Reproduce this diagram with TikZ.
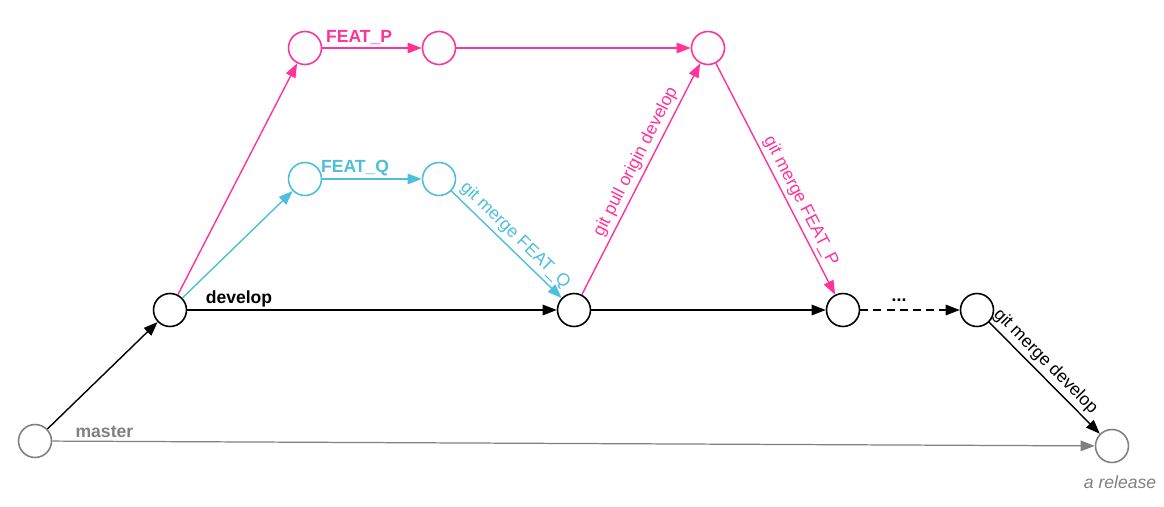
\documentclass[tikz,border=0pt]{standalone}
\usepackage{fontspec}
\setmainfont{Liberation Sans}
\usetikzlibrary{arrows.meta}
\definecolor{featp}{RGB}{255,51,153}
\definecolor{featq}{RGB}{77,190,220}
\definecolor{mastergray}{RGB}{128,128,128}

\begin{document}
\begin{tikzpicture} [x=0.02cm, y=-0.02cm,
				>={Triangle[length=8pt,width=6pt]},
				commit/.style={
				% The shape:
				circle,
				% The size:
      				minimum size=0.66cm, inner sep=0pt,
				% The border:
     				 draw=black, line width=0.9pt,
      				% The filling:
				fill=white
    				},
				pcommit/.style={commit, draw=featp},
				qcommit/.style={commit, draw=featq},
				mcommit/.style={commit, draw=mastergray},
				branch/.style={
				% Font
				font=\bfseries, inner sep=1.5pt
    				},
				cmd/.style={
				sloped, above, inner sep=2pt
    				},
				]
    \tikzstyle{every path} = [line width=0.8pt]
    \useasboundingbox (0,0) rectangle (1164,507);
    % commits
    \node [mcommit] (m0) at (35,441) {};
    \node [mcommit] (m1) at (1112,446) {};
    \node [commit] (d0) at (170,310) {};
    \node [commit] (d1) at (574,310) {};
    \node [commit] (d2) at (843,310) {};
    \node [commit] (d3) at (977,310) {};
    \node [pcommit] (p0) at (305,48) {};
    \node [pcommit] (p1) at (439,48) {};
    \node [pcommit] (p2) at (708,48) {};
    \node [qcommit] (q0) at (305,179) {};
    \node [qcommit] (q1) at (439,179) {};
    \node [mastergray, font=\itshape, anchor=north] (rel) at (1120,469) {a release};
    % master
    \draw [->, mastergray, line width=0.7pt] (m0) -- node [branch, above, pos=0.05] {master} (m1);
    \draw [->] (m0) -- (d0);
    % develop
    \draw [->] (d0) -- node [branch, above, pos=0.14] {develop} (d1);
    \draw [->] (d1) -- (d2);
    \draw [->, dash pattern=on 4.5pt off 3pt] (d2) -- node [branch, above=3pt, pos=0.39] {...} (d3);
    \draw [->] (d3) -- node [cmd, pos=0.43] {git merge develop} (m1);
    % FEAT_P
    \draw [->, featp] (d0) -- (p0);
    \draw [->, featp] (p0) -- node [branch, above, pos=0.37] {FEAT\_P} (p1);
    \draw [->, featp] (p1) -- (p2);
    \draw [->, featp] (d1) -- node [cmd, pos=0.55] {git pull origin develop} (p2);
    \draw [->, featp] (p2) -- node [cmd, pos=0.62] {git merge FEAT\_P} (d2);
    % FEAT_Q
    \draw [->, featq] (d0) -- (q0);
    \draw [->, featq] (q0) -- node [branch, above, pos=0.33] {FEAT\_Q} (q1);
    \draw [->, featq] (q1) -- node [cmd, pos=0.5] {git merge FEAT\_Q} (d1);
\end{tikzpicture}
\end{document}
